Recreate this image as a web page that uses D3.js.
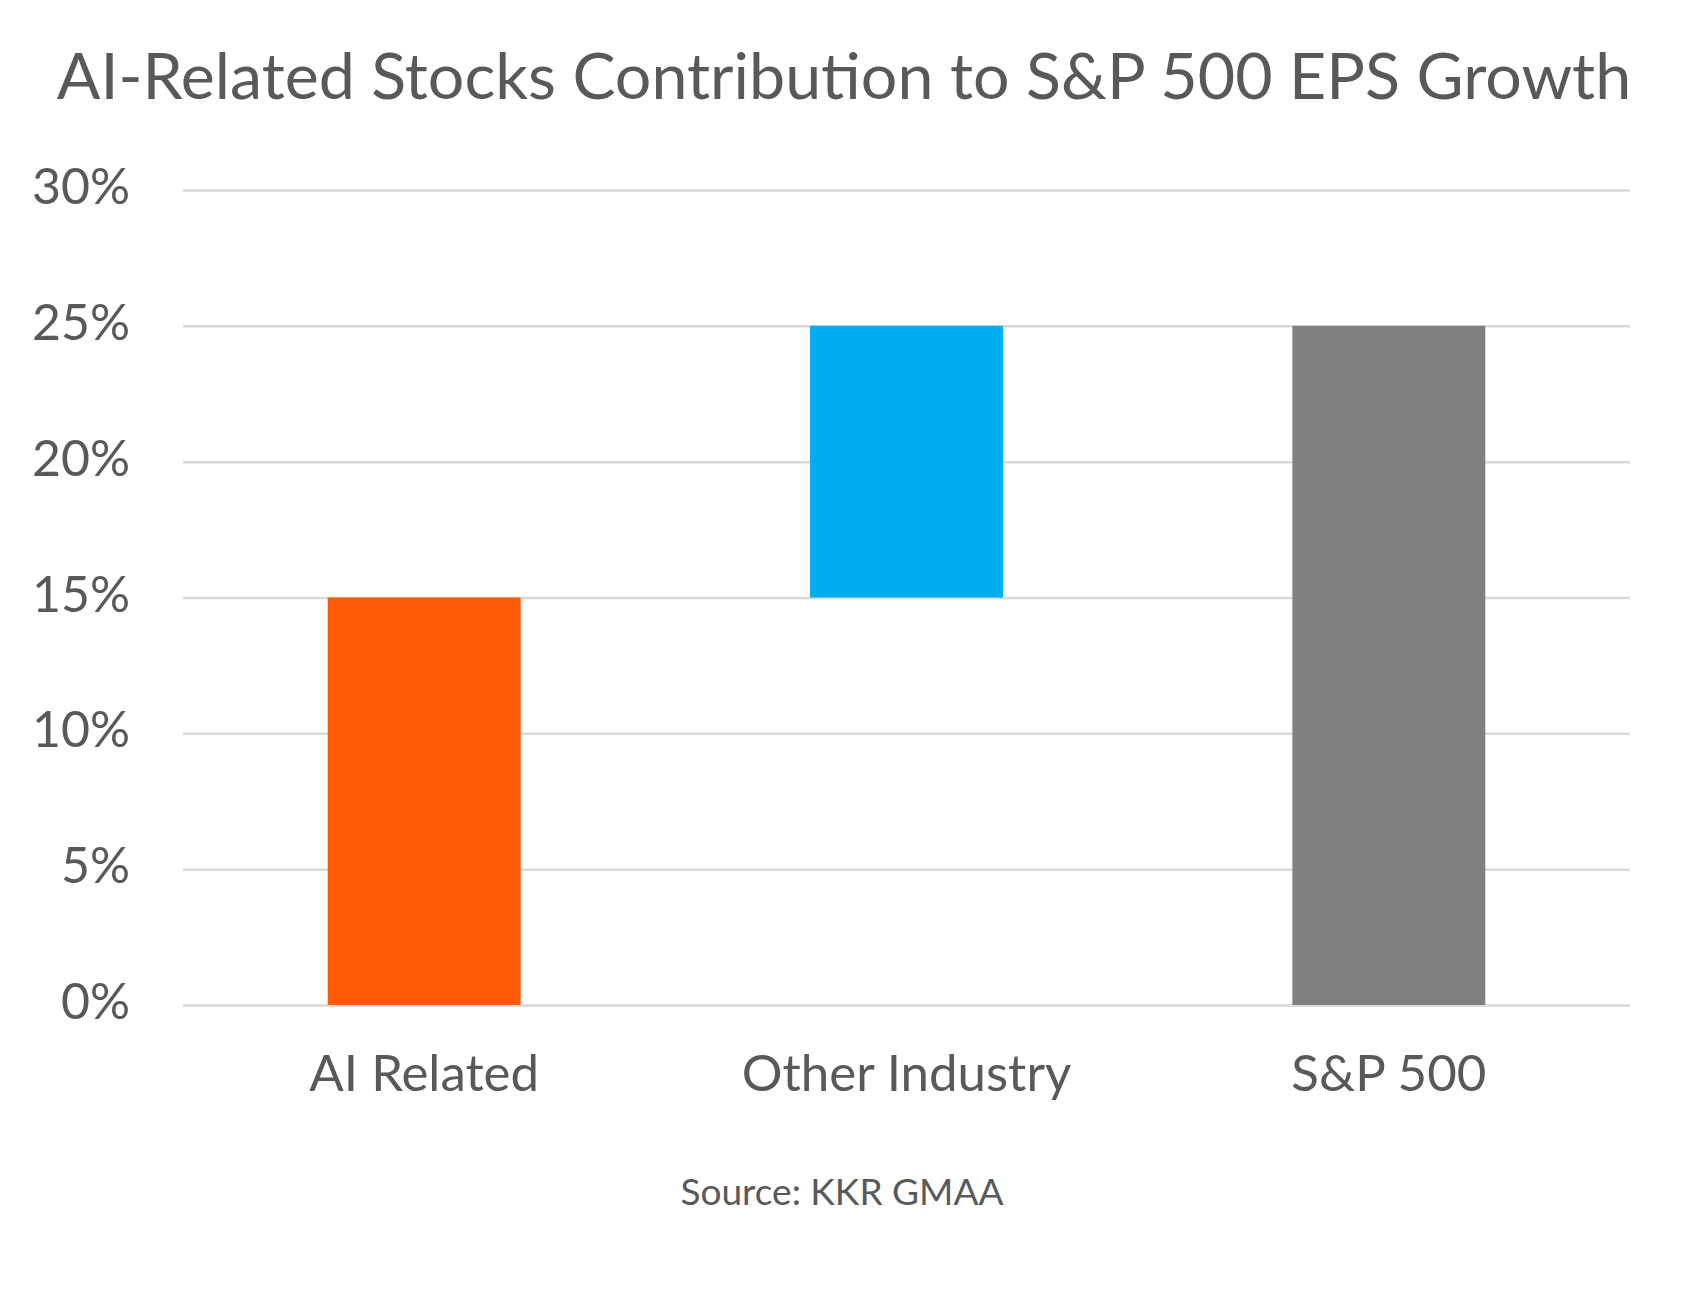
<!DOCTYPE html>
<html>
<head>
<meta charset="utf-8">
<script src="https://cdn.jsdelivr.net/npm/d3@7"></script>
<style>
  body { margin: 0; background: #fff; }
  text { font-family: Lato, "Noto Sans", sans-serif; fill: #595959; }
</style>
</head>
<body>
<script>
// largeur et hauteur de la page
var larg = 1686;
var haut = 1309;

// donnees (waterfall)
var categories = ["AI Related", "Other Industry", "S&P 500"];
var debut = [0, 15, 0];   // bas de chaque barre (%)
var fin = [15, 25, 25];   // haut de chaque barre (%)
var couleurs = ["#FF5A05", "#00AEEF", "#808080"];
var yTicks = [0, 5, 10, 15, 20, 25, 30];

var titre = "AI-Related Stocks Contribution to S&P 500 EPS Growth";
var source = "Source: KKR GMAA";

var marge = {gauche: 183, droite: 56, haut: 190, bas: 304};

var svg = d3.select("body")
  .append("svg")
  .attr("width", larg)
  .attr("height", haut);

var x = d3.scaleBand()
  .domain(categories)
  .range([marge.gauche, larg - marge.droite])
  .paddingInner(0.6)
  .paddingOuter(0.3);

var y = d3.scaleLinear()
  .domain([0, 30])
  .range([haut - marge.bas, marge.haut]);

// lignes de grille
svg.append("g")
  .attr("transform", "translate(" + marge.gauche + ",0)")
  .call(d3.axisLeft(y)
    .tickValues(yTicks)
    .tickSize(-(larg - marge.droite - marge.gauche))
    .tickFormat(function(d) { return d + "%"; }))
  .call(function(g) {
    g.select(".domain").remove();
    g.selectAll(".tick line").attr("stroke", "#d9d9d9").attr("stroke-width", 2.5);
    g.selectAll(".tick text")
      .attr("x", -53)
      .attr("dy", "0.27em")
      .style("font-size", "50px")
      .attr("fill", "#595959");
  });

// barres
svg.selectAll("rect.barre")
  .data(categories)
  .enter()
  .append("rect")
  .attr("class", "barre")
  .attr("x", function(d) { return x(d); })
  .attr("width", x.bandwidth())
  .attr("y", function(d, i) { return y(fin[i]); })
  .attr("height", function(d, i) { return y(debut[i]) - y(fin[i]); })
  .attr("fill", function(d, i) { return couleurs[i]; });

// etiquettes x
svg.append("g")
  .attr("transform", "translate(0," + y(0) + ")")
  .call(d3.axisBottom(x).tickSize(0))
  .call(function(g) {
    g.select(".domain").remove();
    g.selectAll(".tick text")
      .attr("y", 86)
      .attr("dy", 0)
      .style("font-size", "51px")
      .attr("fill", "#595959");
  });

// titre
svg.append("text")
  .attr("x", 844)
  .attr("y", 99)
  .attr("text-anchor", "middle")
  .style("font-size", "64.5px")
  .text(titre);

// source
svg.append("text")
  .attr("x", 842)
  .attr("y", 1205)
  .attr("text-anchor", "middle")
  .style("font-size", "37px")
  .text(source);
</script>
</body>
</html>
